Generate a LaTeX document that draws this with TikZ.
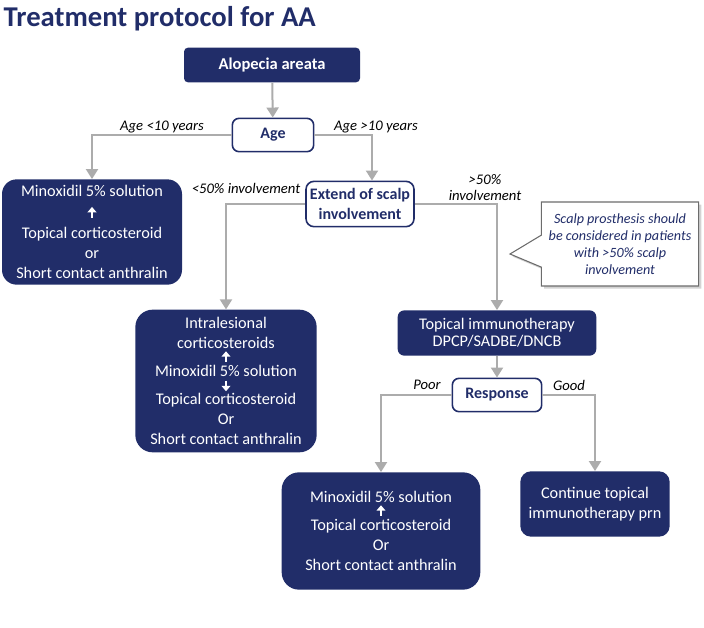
\documentclass[tikz,border=0pt]{standalone}
\usepackage{fontspec}
\setmainfont{Carlito}
\usetikzlibrary{arrows.meta,shapes.callouts,shadows}
\definecolor{navy}{RGB}{33,45,105}
\definecolor{linegrey}{RGB}{172,172,172}
\newcommand{\uparr}{\tikz[baseline=0pt]\draw[white,line width=1.6pt,-{Triangle[length=4pt,width=6.5pt]}] (0pt,0pt) -- (0pt,8pt);}
\newcommand{\downarr}{\tikz[baseline=0pt]\draw[white,line width=1.6pt,-{Triangle[length=4pt,width=6.5pt]}] (0pt,8pt) -- (0pt,0pt);}

\begin{document}
\begin{tikzpicture}[x=0.75pt,y=-0.75pt,
	dark node/.style={rectangle,rounded corners=10pt,fill=navy,text=white,align=center,inner sep=2pt,font=\fontsize{12.2}{15}\selectfont},
	white node/.style={rectangle,rounded corners=5pt,draw=navy,line width=1.2pt,fill=white,text=navy,align=center,inner sep=2pt,font=\fontsize{12}{14.5}\selectfont\bfseries},
	label node/.style={align=center,font=\fontsize{11}{12}\selectfont\itshape},
	conn/.style={draw=linegrey,line width=1.5pt,-{Triangle[length=7.5pt,width=9pt]}}
]
	\useasboundingbox (0,0) rectangle (704,628);

	\node[anchor=west,text=navy,font=\fontsize{21.5}{24}\selectfont\bfseries] (title) at (-1,19) {Treatment protocol for AA};

	\node[dark node,rounded corners=3pt,minimum width=132pt,minimum height=26pt,font=\fontsize{12.4}{15}\selectfont\bfseries] (alopecia) at (272,65) {Alopecia areata};
	\node[white node,minimum width=61pt,minimum height=25pt] (age) at (273,135) {Age};

	\node[dark node,rounded corners=11pt,minimum width=135pt,minimum height=79pt] (minox1) at (92,232)
		{Minoxidil 5\% solution\\[1pt] \uparr\\[1pt] Topical corticosteroid\\ or\\ Short contact anthralin};
	\node[white node,rounded corners=6pt,minimum width=81pt,minimum height=34pt] (extend) at (360,204) {Extend of scalp\\involvement};

	\node[dark node,rounded corners=13pt,minimum width=136pt,minimum height=107pt] (intra) at (226,381)
		{Intralesional\\ corticosteroids\\[-5pt] \uparr\\[-4pt] Minoxidil 5\% solution\\[-4pt] \downarr\\[-5pt] Topical corticosteroid\\ Or\\ Short contact anthralin};
	\node[dark node,rounded corners=5pt,minimum width=149pt,minimum height=34pt] (immuno) at (497,333) {Topical immunotherapy\\[-2pt] DPCP/SADBE/DNCB};
	\node[white node,minimum width=67pt,minimum height=25pt] (response) at (497,395) {Response};

	\node[dark node,rounded corners=13pt,minimum width=149pt,minimum height=88pt] (minox3) at (381,531)
		{Minoxidil 5\% solution\\[-5pt] \uparr\\[-4pt] Topical corticosteroid\\ Or\\ Short contact anthralin};
	\node[dark node,rounded corners=8pt,minimum width=112pt,minimum height=49pt] (cont) at (595,504) {Continue topical\\ immunotherapy prn};

	\node[rectangle callout,draw=gray!85!black,line width=0.8pt,fill=white,drop shadow={opacity=0.35,shadow xshift=2pt,shadow yshift=-2pt},
		minimum width=118pt,minimum height=63pt,callout absolute pointer={(510,254)},callout pointer width=24pt,
		text=navy,align=center,font=\fontsize{10.6}{12.9}\selectfont\itshape] (note) at (620,244)
		{Scalp prosthesis should\\ be considered in patients\\ with >50\% scalp\\ involvement};

	% branch labels
	\node[label node] (young) at (162,127) {Age <10 years};
	\node[label node] (old) at (376,127) {Age >10 years};
	\node[label node] (less) at (246,188) {<50\% involvement};
	\node[label node] (more) at (485,188) {>50\%\\ involvement};
	\node[label node] (poor) at (427,385) {Poor};
	\node[label node] (good) at (569,385) {Good};

	\draw[conn] (alopecia) -- (age);
	\draw[conn] (age.west) -| (minox1.north);
	\draw[conn] (age.east) -| ([xshift=9pt]extend.north);
	\draw[conn] (extend.west) -| (intra.north);
	\draw[conn] (extend.east) -| (immuno.north);
	\draw[conn] (immuno) -- (response);
	\draw[conn] (response.west) -| (minox3.north);
	\draw[conn] (response.east) -| (cont.north);
\end{tikzpicture}
\end{document}
